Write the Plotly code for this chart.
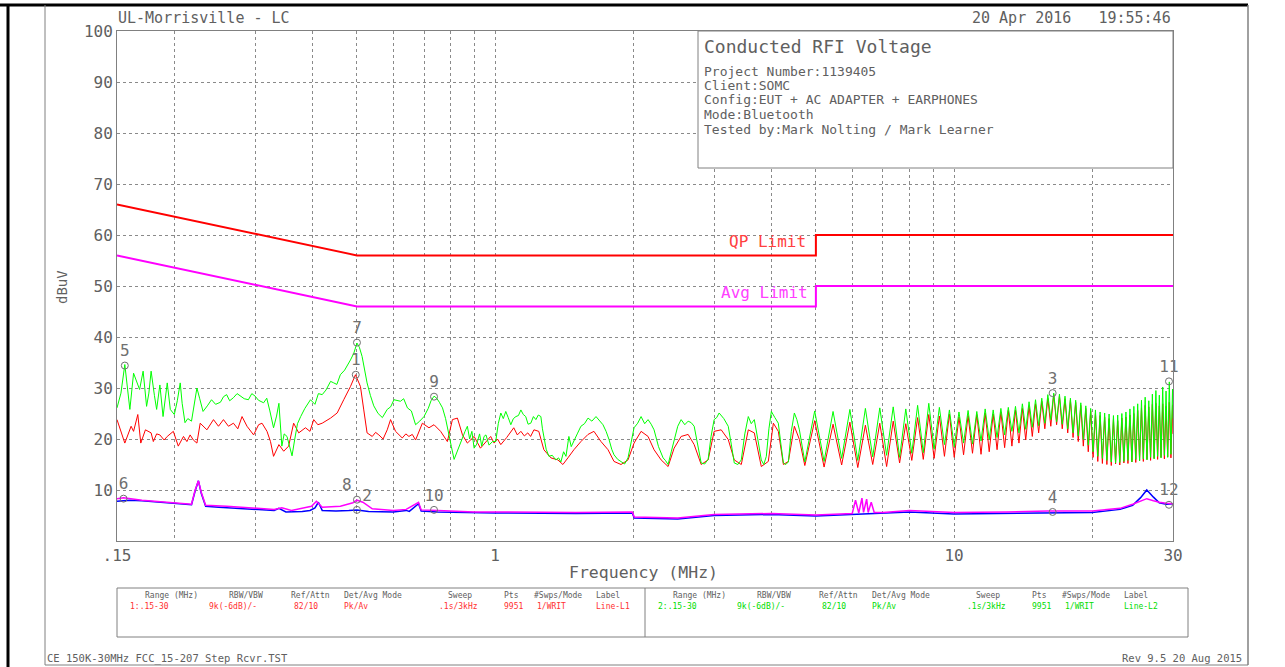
import math
import plotly.graph_objects as go

# ---------------- DATA ----------------
# Peak trace, Line-L1 (red) below 4.7 MHz
red_lo_f = [0.150,0.1535,0.156,0.161,0.163,0.1665,0.169,0.173,0.178,0.180,0.183,0.186,0.190,0.193,0.199,0.204,0.2094,0.213,0.2165,0.220,0.224,0.2277,0.2355,0.2434,0.2496,0.2559,0.2624,0.269,0.275,0.2809,0.288,0.2977,0.3052,0.3105,0.3184,0.324,0.329,0.338,0.3462,0.3549,0.3639,0.3733,0.3861,0.395,0.4025,0.411,0.420,0.438,0.4527,0.4679,0.484,0.4963,0.5088,0.5174,0.526,0.5399,0.549,0.558,0.570,0.582,0.5918,0.6068,0.6276,0.639,0.6489,0.660,0.671,0.6942,0.7176,0.736,0.7608,0.7870,0.8071,0.8276,0.849,0.870,0.900,0.929,0.954,0.962,0.978,0.995,
            1.012,1.029,1.060,1.098,1.118,1.138,1.158,1.178,1.195,1.215,1.245,1.277,1.300,1.323,1.370,1.405,1.441,1.485,1.538,1.594,1.642,1.701,1.762,1.816,1.881,1.948,2.008,2.080,2.154,2.220,2.300,2.382,2.455,2.543,2.634,2.715,2.812,2.912,3.001,3.109,3.221,3.320,3.439,3.562,3.671,3.802,3.938,4.039,4.141,4.248,4.355,4.488,4.603]
red_lo = [23.8,20.8,19.2,22.5,21.5,24.8,19.2,21.8,21.2,19.5,21.0,20.8,19.8,20.5,21.5,18.6,20.5,19.5,20.8,19.8,19.2,23.1,21.8,23.8,22.5,23.8,22.5,23.1,22.0,24.4,22.5,20.8,22.8,23.1,21.5,19.5,16.6,18.9,17.6,18.6,23.1,21.2,22.2,21.5,23.8,22.8,23.1,24.1,25.1,27.7,30.3,32.6,30.3,25.7,21.2,20.5,21.3,20.8,20.0,21.8,23.8,21.5,20.2,21.0,20.5,20.9,19.8,23.1,22.2,22.8,21.5,19.5,23.8,24.1,20.8,19.2,20.5,18.2,19.5,19.8,20.5,19.2,
          20.0,18.9,20.3,22.2,20.8,21.5,20.6,21.2,20.5,21.8,21.5,17.9,17.0,16.3,15.9,15.0,16.3,17.9,19.5,20.9,21.5,19.5,17.9,15.6,15.0,15.9,19.2,21.5,20.5,17.9,15.9,14.6,18.2,20.5,20.9,18.9,15.0,15.9,21.5,21.8,19.9,15.9,15.0,21.8,21.2,14.6,15.6,23.1,21.5,15.0,15.6,22.5,19.9]

# Peak trace, Line-L2 (green) below 4.7 MHz
green_lo_f = [0.150,0.153,0.156,0.158,0.160,0.163,0.166,0.168,0.171,0.174,0.176,0.178,0.181,0.183,0.186,0.189,0.193,0.196,0.200,0.203,0.206,0.208,0.211,0.214,0.218,0.221,0.224,0.227,0.231,0.236,0.241,0.246,0.252,0.256,0.260,0.264,0.269,0.274,0.279,0.284,0.290,0.295,0.300,0.305,0.313,0.318,0.323,0.329,0.334,0.338,0.343,0.347,0.352,0.356,0.361,0.366,0.371,0.377,0.385,0.396,0.405,0.412,0.420,0.428,0.438,0.445,0.452,0.460,0.470,0.484,0.492,0.500,0.506,0.513,0.520,0.526,0.535,0.544,0.556,0.568,0.582,0.592,0.602,0.612,0.622,0.632,0.644,0.657,0.671,0.685,0.700,0.715,0.725,0.736,0.746,0.756,0.768,0.780,0.793,0.803,0.814,0.822,0.835,0.849,0.860,0.870,0.880,0.890,0.900,0.912,0.925,0.935,0.946,0.955,0.970,0.987,
              1.003,1.016,1.029,1.042,1.055,1.068,1.082,1.096,1.110,1.124,1.138,1.152,1.166,1.180,1.196,1.212,1.227,1.242,1.258,1.268,1.277,1.292,1.310,1.332,1.356,1.375,1.391,1.410,1.427,1.440,1.448,1.465,1.485,1.510,1.538,1.566,1.594,1.625,1.659,1.690,1.718,1.745,1.771,1.795,1.816,1.850,1.881,1.915,1.948,1.978,2.008,2.045,2.080,2.118,2.154,2.188,2.220,2.270,2.323,2.350,2.382,2.420,2.455,2.500,2.543,2.590,2.634,2.675,2.715,2.765,2.812,2.862,2.912,2.955,3.001,3.040,3.077,3.150,3.221,3.270,3.320,3.380,3.439,3.500,3.562,3.615,3.671,3.735,3.802,3.850,3.899,3.950,3.999,4.070,4.141,4.195,4.248,4.300,4.355,4.420,4.488,4.545,4.603]
green_lo = [26.1,29.0,34.6,29.5,25.8,32.9,31.0,29.7,33.3,26.4,29.0,33.3,28.5,25.8,30.6,24.4,31.0,25.8,24.8,27.5,31.0,27.0,23.2,24.0,23.5,26.5,30.0,28.0,25.4,26.5,27.7,26.8,27.2,28.3,28.7,27.5,28.1,28.9,28.4,27.9,27.7,28.9,28.4,27.6,27.1,28.0,25.5,22.2,24.5,27.0,18.6,21.0,20.5,19.0,16.7,20.0,23.0,24.4,26.0,27.7,26.8,28.9,28.7,29.6,31.3,31.0,30.7,32.6,33.5,35.5,36.8,38.8,38.0,36.2,33.5,31.0,28.5,26.5,25.0,24.2,25.8,26.3,27.7,27.6,27.4,27.9,26.1,25.5,22.8,23.5,24.4,26.0,27.5,28.4,28.0,27.2,26.1,24.0,21.2,18.5,16.0,17.0,18.5,20.5,21.5,22.5,20.0,21.5,18.2,19.0,21.0,18.6,20.5,20.8,18.8,19.5,
            19.5,23.0,25.1,24.0,25.4,24.2,22.8,24.0,24.4,24.6,25.7,24.8,24.4,22.9,23.1,24.4,23.8,24.7,24.4,22.0,20.5,18.0,16.6,16.8,15.9,16.3,15.5,17.5,16.6,19.0,20.5,18.5,19.5,21.0,22.5,23.0,24.1,23.5,24.4,23.6,22.8,21.5,19.9,18.0,16.9,16.0,15.6,15.1,16.3,19.0,22.2,23.1,24.4,23.0,23.8,22.9,21.8,18.5,16.3,15.8,15.0,17.5,19.9,22.5,23.8,22.8,23.5,23.2,22.5,18.8,15.3,15.1,16.0,20.5,23.8,24.2,25.1,24.0,22.5,19.0,15.3,15.0,15.9,21.0,24.4,23.0,23.8,20.0,15.9,15.0,16.6,22.0,25.4,24.2,23.1,19.0,15.3,15.0,15.5,21.5,25.1,23.8,21.8]

# Comb region above 4.7 MHz: alternating trough / crest frequencies (shared by both lines)
comb_f = [4.73,4.97,5.21,5.45,5.69,5.93,6.17,6.41,6.65,6.89,7.13,7.37,7.61,7.85,8.09,8.33,8.57,8.81,9.05,9.29,9.53,9.77,10.01,10.25,10.49,10.73,10.97,11.21,11.45,11.69,11.93,12.17,12.41,12.65,12.89,13.13,13.37,13.61,13.85,14.09,14.33,14.57,14.81,15.05,15.29,15.53,15.77,16.01,16.25,16.49,16.73,16.97,17.21,17.45,17.69,17.93,18.17,18.41,18.65,18.89,19.13,19.37,19.61,19.85,20.09,20.33,20.57,20.81,21.05,21.29,21.53,21.77,22.01,22.25,22.49,22.73,22.97,23.21,23.45,23.69,23.93,24.17,24.41,24.65,24.89,25.13,25.37,25.61,25.85,26.09,26.33,26.57,26.81,27.05,27.29,27.53,27.77,28.01,28.25,28.49,28.73,28.97,29.21,29.45,29.69,29.93,30.0]
green_comb = [15.5,25.5,15.6,25.4,16.2,25.8,15.8,26.0,16.5,26.1,16.8,26.3,16.4,25.9,17.2,26.6,17.3,27.0,18.0,26.2,18.9,25.7,18.5,25.3,19.2,25.6,19.0,25.4,19.6,25.9,19.9,25.7,20.3,26.0,20.8,26.2,21.5,26.4,21.2,26.9,21.9,27.3,22.3,27.7,22.6,28.0,23.1,28.7,23.8,29.0,23.4,28.8,22.9,28.4,22.0,28.0,21.2,27.6,20.6,27.1,19.9,26.5,18.8,26.0,17.5,25.7,16.6,25.3,16.2,25.1,15.8,24.9,15.5,24.6,15.3,24.7,15.4,25.0,15.6,25.3,15.8,25.9,15.5,26.4,16.0,26.9,15.7,27.6,16.1,28.2,15.9,27.5,16.4,28.8,16.1,29.5,16.6,28.6,16.3,30.2,16.8,29.4,16.4,31.2,17.0,29.8,24.0]
red_comb = [14.8,23.6,14.5,22.9,14.9,23.3,14.4,22.7,15.0,23.1,14.6,23.5,15.3,23.0,15.8,24.2,16.0,24.8,16.2,24.5,16.6,24.9,16.4,24.3,16.9,24.6,17.2,24.8,17.0,25.1,17.5,24.9,17.9,25.3,18.3,25.6,18.6,25.7,19.2,26.0,19.8,26.5,20.5,26.9,21.2,27.4,22.0,28.0,22.5,28.8,22.8,28.4,22.0,27.9,21.2,27.6,20.3,27.2,19.5,26.6,18.6,26.0,17.5,25.5,16.4,25.0,15.6,24.6,15.2,24.3,15.0,24.0,14.8,23.8,15.1,23.6,14.9,24.1,15.3,24.3,15.2,24.7,15.5,25.0,15.4,25.6,15.8,26.1,15.6,26.6,16.0,26.3,15.8,26.8,16.2,27.0,16.0,26.5,16.4,26.9,16.1,26.4,16.5,27.2,16.3,26.7,21.0]

# Average traces
blue_f = [0.150,0.160,0.170,0.180,0.190,0.200,0.210,0.218,0.222,0.2257,0.229,0.234,0.250,0.270,0.300,0.330,0.338,0.350,0.380,0.395,0.405,0.412,0.420,0.450,0.480,0.500,0.530,0.600,0.640,0.650,0.681,0.690,0.750,0.900,1.000,1.500,1.990,2.010,2.500,3.000,4.000,5.000,6.000,7.000,8.000,10.00,13.00,16.00,20.00,23.00,24.50,25.50,26.30,27.20,28.00,29.00,30.00]
blue_v = [7.8,8.0,7.9,7.7,7.5,7.3,7.2,7.1,9.8,11.8,9.3,6.8,6.6,6.4,6.2,6.0,6.4,5.7,5.8,6.0,6.5,7.6,6.0,5.9,6.0,6.1,5.8,5.7,6.0,5.8,7.3,5.9,5.7,5.5,5.5,5.4,5.5,4.5,4.3,5.0,5.2,4.9,5.2,5.4,5.7,5.3,5.4,5.6,5.6,6.2,7.0,8.5,10.0,8.6,7.5,7.2,7.3]
magenta_f = [0.150,0.155,0.170,0.190,0.210,0.218,0.222,0.2257,0.229,0.234,0.260,0.300,0.330,0.343,0.360,0.398,0.408,0.420,0.460,0.490,0.500,0.515,0.540,0.600,0.640,0.681,0.690,0.750,0.900,1.000,1.500,1.990,2.010,2.500,3.000,4.000,5.000,6.000,6.100,6.200,6.300,6.350,6.450,6.500,6.600,6.700,7.000,8.000,10.00,13.00,16.00,20.00,23.00,24.50,25.50,26.30,27.20,28.00,29.00,30.00]
magenta_v = [8.3,8.5,8.0,7.6,7.3,7.2,10.0,11.8,9.5,7.0,6.8,6.4,6.2,6.5,6.0,6.8,7.8,6.6,6.8,7.5,8.0,7.6,6.3,6.0,6.2,7.6,6.1,6.0,5.7,5.7,5.6,5.7,4.7,4.5,5.2,5.4,5.1,5.4,8.0,5.5,8.4,5.6,8.2,5.6,7.6,5.6,5.6,6.0,5.6,5.7,5.9,5.9,6.4,7.2,7.9,8.3,7.9,7.6,7.4,7.3]

# Limit lines
qp_f = [0.15, 0.5, 5.0, 5.0, 30.0]
qp_v = [66.0, 56.0, 56.0, 60.0, 60.0]
avg_f = [0.15, 0.5, 5.0, 5.0, 30.0]
avg_v = [56.0, 46.0, 46.0, 50.0, 50.0]

# Markers
marker_no = ["1", "2", "3", "4", "5", "6", "7", "8", "9", "10", "11", "12"]
marker_f = [0.497, 0.500, 16.4, 16.4, 0.156, 0.155, 0.500, 0.500, 0.736, 0.736, 29.4, 29.4]
marker_v = [32.6, 6.1, 29.0, 5.7, 34.4, 8.3, 38.9, 8.1, 28.3, 6.1, 31.3, 7.1]
marker_pos = ["top center", "top right", "top center", "top center", "top center", "top center",
              "top center", "top left", "top center", "top center", "top center", "top center"]

# Axis ticks
x_grid = [0.15, 0.2, 0.3, 0.4, 0.5, 0.6, 0.7, 0.8, 0.9, 1, 2, 3, 4, 5, 6, 7, 8, 9, 10, 20, 30]
x_labels = {0.15: ".15", 1: "1", 10: "10", 30: "30"}
y_ticks = [10, 20, 30, 40, 50, 60, 70, 80, 90, 100]

# Table
hdr = ["Range (MHz)", "RBW/VBW", "Ref/Attn", "Det/Avg Mode", "Sweep", "Pts", "#Swps/Mode", "Label"]
row1 = ["1:.15-30", "9k(-6dB)/-", "82/10", "Pk/Av", ".1s/3kHz", "9951", "1/WRIT", "Line-L1"]
row2 = ["2:.15-30", "9k(-6dB)/-", "82/10", "Pk/Av", ".1s/3kHz", "9951", "1/WRIT", "Line-L2"]
info_lines = ["Project Number:1139405", "Client:SOMC", "Config:EUT + AC ADAPTER + EARPHONES",
              "Mode:Bluetooth", "Tested by:Mark Nolting / Mark Learner"]

# ---------------- FIGURE ----------------
W, H = 1285, 667
L, R, T, B = 117, 1173, 31, 541
FONT = "DejaVu Sans Mono"
GRAY = "#606060"
LINEG = "#808080"


def px(x):
    return (x - L) / (R - L)


def py(y):
    return (B - y) / (B - T)


fig = go.Figure()

fig.add_trace(go.Scatter(x=qp_f, y=qp_v, mode="lines", line=dict(color="#ff0000", width=2)))
fig.add_trace(go.Scatter(x=avg_f, y=avg_v, mode="lines", line=dict(color="#ff00ff", width=2)))
fig.add_trace(go.Scatter(x=red_lo_f + comb_f, y=red_lo + red_comb, mode="lines",
                         line=dict(color="#ff0000", width=1)))
fig.add_trace(go.Scatter(x=green_lo_f + comb_f, y=green_lo + green_comb, mode="lines",
                         line=dict(color="#00ff00", width=1)))
fig.add_trace(go.Scatter(x=blue_f, y=blue_v, mode="lines", line=dict(color="#0000ff", width=1.5)))
fig.add_trace(go.Scatter(x=magenta_f, y=magenta_v, mode="lines", line=dict(color="#ff00ff", width=1.5)))
fig.add_trace(go.Scatter(x=marker_f, y=marker_v, mode="markers+text", text=marker_no,
                         textposition=marker_pos, cliponaxis=False,
                         textfont=dict(family=FONT, size=16, color="#707070"),
                         marker=dict(symbol="circle-open", size=7, color="#707070",
                                     line=dict(width=1, color="#707070"))))

ann = []


def txt(s, x, y, size, color=GRAY, xanchor="left", angle=0):
    ann.append(dict(text=s, x=px(x), y=py(y), xref="paper", yref="paper", showarrow=False,
                    xanchor=xanchor, yanchor="middle", textangle=angle,
                    font=dict(family=FONT, size=size, color=color)))


txt("UL-Morrisville - LC", 116, 18, 15)
txt("20 Apr 2016   19:55:46", 1173, 18, 15, xanchor="right")
txt("Conducted RFI Voltage", 702, 46, 18)
for i, s in enumerate(info_lines):
    txt(s, 702, 71 + i * 14.5, 13)
txt("QP Limit", 808, 241, 16, color="#ff4040", xanchor="right")
txt("Avg Limit", 810, 292, 16, color="#ff40ff", xanchor="right")
txt("dBuV", 62, 287, 14, xanchor="center", angle=-90)
txt("Frequency (MHz)", 643, 572, 16.5, xanchor="center")

hx = [143, 227, 289, 342, 446, 502, 532, 594]
vx = [128, 207, 292, 342, 437, 502, 535, 594]
for h, v1, v2, a, b in zip(hdr, row1, row2, hx, vx):
    txt(h, a, 595, 8)
    txt(h, a + 528, 595, 8)
    txt(v1, b, 606, 8, color="#ff3030")
    txt(v2, b + 528, 606, 8, color="#00dd00")

txt("CE 150K-30MHz FCC_15-207 Step Rcvr.TST", 45, 658, 10.5)
txt("Rev 9.5 20 Aug 2015", 1244, 658, 10.5, xanchor="right")


def seg(x0, y0, x1, y1, color, width):
    return dict(type="line", xref="paper", yref="paper", x0=px(x0), y0=py(y0), x1=px(x1), y1=py(y1),
                line=dict(color=color, width=width), layer="above")


shapes = [
    dict(type="rect", xref="paper", yref="paper", x0=px(698), x1=px(1173), y0=py(168), y1=py(31),
         fillcolor="white", line=dict(color=LINEG, width=1), layer="above"),
    dict(type="rect", xref="paper", yref="paper", x0=px(117), x1=px(1188), y0=py(637), y1=py(588),
         line=dict(color=LINEG, width=1), layer="above"),
    seg(645, 588, 645, 637, LINEG, 1),
    seg(0, 5, 1248, 5, "black", 3),
    seg(8, 5, 8, 667, "black", 3),
    seg(45, 5, 45, 665, LINEG, 1),
    seg(45, 665, 1248, 665, LINEG, 1),
    seg(1248, 5, 1248, 665, LINEG, 1.5),
]

fig.update_layout(
    width=W, height=H, autosize=False,
    margin=dict(l=L, r=W - R, t=T, b=H - B, pad=0),
    paper_bgcolor="white", plot_bgcolor="white",
    showlegend=False, hovermode=False,
    annotations=ann, shapes=shapes,
    xaxis=dict(type="log", range=[math.log10(0.15), math.log10(30)],
               tickvals=x_grid, ticktext=[x_labels.get(v, "") for v in x_grid],
               showgrid=True, gridcolor="#8a8a8a", griddash="dot", gridwidth=1,
               showline=True, mirror=True, linecolor=LINEG, linewidth=1,
               ticks="", zeroline=False,
               tickfont=dict(family=FONT, size=16, color=GRAY)),
    yaxis=dict(range=[0, 100], tickvals=y_ticks,
               showgrid=True, gridcolor="#8a8a8a", griddash="dot", gridwidth=1,
               showline=True, mirror=True, linecolor=LINEG, linewidth=1,
               ticks="", zeroline=False,
               tickfont=dict(family=FONT, size=16, color=GRAY)),
)

fig.write_html("out.html", config={"displayModeBar": False})
